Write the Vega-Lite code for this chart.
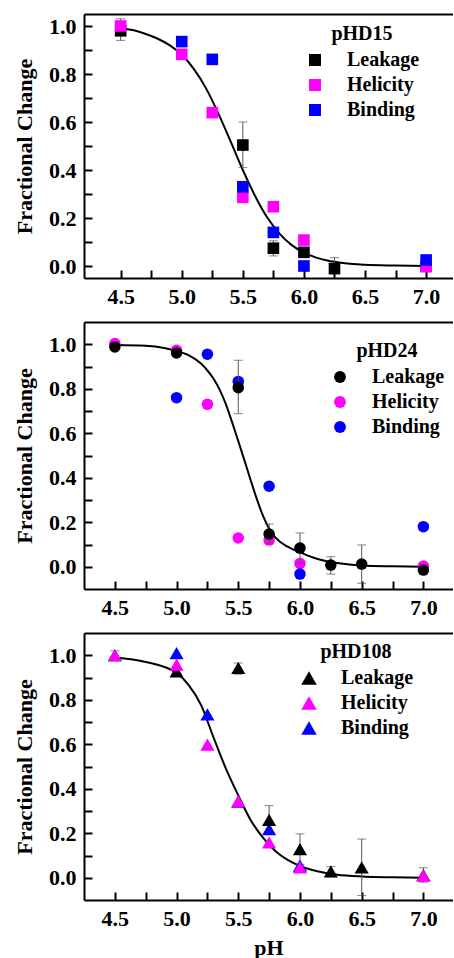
{
  "$schema": "https://vega.github.io/schema/vega-lite/v6.json",
  "padding": {"left": 13, "top": 14, "right": 0, "bottom": 0},
  "spacing": 15,
  "config": {
    "font": "Liberation Serif",
    "view": {"stroke": null},
    "axis": {"labelFont": "Liberation Serif", "labelFontSize": 22, "labelFontWeight": "bold", "labelColor": "#000", "titleFont": "Liberation Serif", "titleFontSize": 22, "titleFontWeight": "bold", "titleColor": "#000", "domainColor": "#000", "domainWidth": 2, "tickColor": "#000", "tickWidth": 2, "tickSize": -8, "labelPadding": 16, "grid": false, "labelOverlap": false, "labelFlush": false, "labelBound": false},
    "legend": {"orient": "none", "padding": 0, "titleFont": "Liberation Serif", "titleFontSize": 20, "titleFontWeight": "bold", "titleColor": "#000", "titleAnchor": "middle", "titlePadding": 6, "labelFont": "Liberation Serif", "labelFontSize": 20, "labelFontWeight": "bold", "labelColor": "#000", "labelOffset": 22, "rowPadding": 5, "symbolStrokeWidth": 0}
  },
  "datasets": {
    "c15": [
      {"pH": 4.5, "fit": 0.99}, {"pH": 4.6, "fit": 0.983}, {"pH": 4.7, "fit": 0.968}, {"pH": 4.8, "fit": 0.948}, {"pH": 4.9, "fit": 0.92},
      {"pH": 5.0, "fit": 0.88}, {"pH": 5.1, "fit": 0.82}, {"pH": 5.2, "fit": 0.739}, {"pH": 5.3, "fit": 0.635}, {"pH": 5.4, "fit": 0.519},
      {"pH": 5.5, "fit": 0.4}, {"pH": 5.6, "fit": 0.292}, {"pH": 5.7, "fit": 0.202}, {"pH": 5.8, "fit": 0.135}, {"pH": 5.9, "fit": 0.087},
      {"pH": 6.0, "fit": 0.056}, {"pH": 6.1, "fit": 0.035}, {"pH": 6.2, "fit": 0.022}, {"pH": 6.3, "fit": 0.014}, {"pH": 6.4, "fit": 0.008},
      {"pH": 6.5, "fit": 0.005}, {"pH": 6.75, "fit": 0.002}, {"pH": 7.0, "fit": 0.0}
    ],
    "c24": [
      {"pH": 4.5, "fit": 0.997}, {"pH": 4.75, "fit": 0.993}, {"pH": 4.9, "fit": 0.983}, {"pH": 5.0, "fit": 0.97}, {"pH": 5.1, "fit": 0.95},
      {"pH": 5.2, "fit": 0.912}, {"pH": 5.25, "fit": 0.882}, {"pH": 5.3, "fit": 0.845}, {"pH": 5.35, "fit": 0.795}, {"pH": 5.4, "fit": 0.73},
      {"pH": 5.45, "fit": 0.65}, {"pH": 5.5, "fit": 0.565}, {"pH": 5.55, "fit": 0.478}, {"pH": 5.6, "fit": 0.39}, {"pH": 5.65, "fit": 0.305},
      {"pH": 5.7, "fit": 0.23}, {"pH": 5.75, "fit": 0.172}, {"pH": 5.8, "fit": 0.132}, {"pH": 5.9, "fit": 0.09}, {"pH": 6.0, "fit": 0.065},
      {"pH": 6.1, "fit": 0.043}, {"pH": 6.2, "fit": 0.027}, {"pH": 6.3, "fit": 0.017}, {"pH": 6.4, "fit": 0.01}, {"pH": 6.5, "fit": 0.006},
      {"pH": 6.75, "fit": 0.002}, {"pH": 7.0, "fit": 0.0}
    ],
    "c108": [
      {"pH": 4.5, "fit": 0.99}, {"pH": 4.75, "fit": 0.97}, {"pH": 5.0, "fit": 0.92}, {"pH": 5.1, "fit": 0.865}, {"pH": 5.2, "fit": 0.775},
      {"pH": 5.3, "fit": 0.63}, {"pH": 5.4, "fit": 0.49}, {"pH": 5.5, "fit": 0.37}, {"pH": 5.6, "fit": 0.26}, {"pH": 5.7, "fit": 0.18},
      {"pH": 5.8, "fit": 0.12}, {"pH": 5.9, "fit": 0.08}, {"pH": 6.0, "fit": 0.053}, {"pH": 6.1, "fit": 0.035}, {"pH": 6.2, "fit": 0.022},
      {"pH": 6.3, "fit": 0.014}, {"pH": 6.5, "fit": 0.006}, {"pH": 6.75, "fit": 0.002}, {"pH": 7.0, "fit": 0.0}
    ],
    "p15": [
      {"pH": 4.5, "value": 0.98, "series": "Leakage", "lo": 0.94, "hi": 1.03},
      {"pH": 5.5, "value": 0.504, "series": "Leakage", "lo": 0.41, "hi": 0.6},
      {"pH": 5.75, "value": 0.074, "series": "Leakage", "lo": 0.042, "hi": 0.105},
      {"pH": 6.0, "value": 0.057, "series": "Leakage", "lo": 0.04, "hi": 0.075},
      {"pH": 6.25, "value": -0.011, "series": "Leakage", "lo": -0.03, "hi": 0.035},
      {"pH": 7.0, "value": 0.0, "series": "Leakage", "lo": -0.01, "hi": 0.01},
      {"pH": 4.5, "value": 1.0, "series": "Helicity"},
      {"pH": 5.0, "value": 0.882, "series": "Helicity"},
      {"pH": 5.25, "value": 0.639, "series": "Helicity"},
      {"pH": 5.5, "value": 0.286, "series": "Helicity"},
      {"pH": 5.75, "value": 0.247, "series": "Helicity"},
      {"pH": 6.0, "value": 0.108, "series": "Helicity"},
      {"pH": 7.0, "value": -0.003, "series": "Helicity"},
      {"pH": 5.0, "value": 0.935, "series": "Binding"},
      {"pH": 5.25, "value": 0.861, "series": "Binding"},
      {"pH": 5.5, "value": 0.33, "series": "Binding"},
      {"pH": 5.75, "value": 0.14, "series": "Binding"},
      {"pH": 6.0, "value": 0.0, "series": "Binding"},
      {"pH": 7.0, "value": 0.025, "series": "Binding"}
    ],
    "p24": [
      {"pH": 4.5, "value": 1.003, "series": "Helicity"},
      {"pH": 5.0, "value": 0.973, "series": "Helicity"},
      {"pH": 5.25, "value": 0.73, "series": "Helicity"},
      {"pH": 5.5, "value": 0.129, "series": "Helicity"},
      {"pH": 5.75, "value": 0.12, "series": "Helicity"},
      {"pH": 6.0, "value": 0.015, "series": "Helicity"},
      {"pH": 7.0, "value": 0.003, "series": "Helicity"},
      {"pH": 5.0, "value": 0.76, "series": "Binding"},
      {"pH": 5.25, "value": 0.955, "series": "Binding"},
      {"pH": 5.5, "value": 0.833, "series": "Binding"},
      {"pH": 5.75, "value": 0.362, "series": "Binding"},
      {"pH": 6.0, "value": -0.033, "series": "Binding"},
      {"pH": 7.0, "value": 0.18, "series": "Binding"},
      {"pH": 4.5, "value": 0.988, "series": "Leakage"},
      {"pH": 5.0, "value": 0.961, "series": "Leakage"},
      {"pH": 5.5, "value": 0.805, "series": "Leakage", "lo": 0.688, "hi": 0.928},
      {"pH": 5.75, "value": 0.147, "series": "Leakage", "lo": 0.105, "hi": 0.192},
      {"pH": 6.0, "value": 0.084, "series": "Leakage", "lo": 0.017, "hi": 0.152},
      {"pH": 6.25, "value": 0.0075, "series": "Leakage", "lo": -0.033, "hi": 0.045},
      {"pH": 6.5, "value": 0.012, "series": "Leakage", "lo": -0.074, "hi": 0.098},
      {"pH": 7.0, "value": -0.015, "series": "Leakage", "lo": -0.03, "hi": 0.0}
    ],
    "p108": [
      {"pH": 5.0, "value": 1.01, "series": "Binding"},
      {"pH": 5.25, "value": 0.734, "series": "Binding"},
      {"pH": 5.5, "value": 0.342, "series": "Binding"},
      {"pH": 5.75, "value": 0.219, "series": "Binding"},
      {"pH": 6.0, "value": 0.054, "series": "Binding"},
      {"pH": 4.5, "value": 1.0, "series": "Leakage", "lo": 0.975, "hi": 1.02},
      {"pH": 5.0, "value": 0.928, "series": "Leakage", "lo": 0.91, "hi": 0.945},
      {"pH": 5.5, "value": 0.943, "series": "Leakage", "lo": 0.915, "hi": 0.965},
      {"pH": 5.75, "value": 0.26, "series": "Leakage", "lo": 0.195, "hi": 0.324},
      {"pH": 6.0, "value": 0.129, "series": "Leakage", "lo": 0.06, "hi": 0.197},
      {"pH": 6.25, "value": 0.029, "series": "Leakage", "lo": 0.005, "hi": 0.05},
      {"pH": 6.5, "value": 0.047, "series": "Leakage", "lo": -0.08, "hi": 0.174},
      {"pH": 7.0, "value": 0.012, "series": "Leakage", "lo": -0.02, "hi": 0.045},
      {"pH": 4.5, "value": 1.0, "series": "Helicity"},
      {"pH": 5.0, "value": 0.958, "series": "Helicity"},
      {"pH": 5.25, "value": 0.598, "series": "Helicity"},
      {"pH": 5.5, "value": 0.344, "series": "Helicity"},
      {"pH": 5.75, "value": 0.159, "series": "Helicity"},
      {"pH": 6.0, "value": 0.047, "series": "Helicity"},
      {"pH": 7.0, "value": 0.009, "series": "Helicity"}
    ]
  },
  "resolve": {"scale": {"x": "independent", "y": "independent", "color": "independent"}, "legend": {"color": "independent"}},
  "vconcat": [
    {
      "width": 369, "height": 264,
      "resolve": {"axis": {"x": "independent", "y": "independent"}},
      "layer": [
        {
          "data": {"name": "c15"},
          "mark": {"type": "line", "color": "#000", "strokeWidth": 2, "interpolate": "monotone"},
          "encoding": {
            "x": {"field": "pH", "type": "quantitative", "scale": {"domain": [4.2, 7.22], "nice": false, "zero": false},
              "axis": {"orient": "bottom", "title": null, "values": [4.5, 4.75, 5, 5.25, 5.5, 5.75, 6, 6.25, 6.5, 6.75, 7], "labelExpr": "(datum.value*2)%1==0 ? format(datum.value,'.1f') : ''", "encoding": {"ticks": {"update": {"y2": {"signal": "(datum.value*2)%1==0 ? -8 : -5"}}}}}},
            "y": {"field": "fit", "type": "quantitative", "scale": {"domain": [-0.05, 1.05], "nice": false, "zero": false},
              "axis": {"orient": "left", "title": "Fractional Change", "titlePadding": 12, "values": [0, 0.1, 0.2, 0.3, 0.4, 0.5, 0.6, 0.7, 0.8, 0.9, 1.0], "labelExpr": "round(datum.value*10)%2==0 ? format(datum.value,'.1f') : ''", "encoding": {"ticks": {"update": {"x2": {"signal": "round(datum.value*10)%2==0 ? 8 : 5"}}}}}}
          }
        },
        {
          "data": {"name": "p15"},
          "transform": [{"filter": "isValid(datum.lo)"}],
          "mark": {"type": "errorbar", "ticks": {"size": 9, "thickness": 1, "color": "#555"}, "rule": {"color": "#555", "strokeWidth": 1}},
          "encoding": {
            "x": {"field": "pH", "type": "quantitative", "axis": null},
            "y": {"field": "lo", "type": "quantitative", "axis": null},
            "y2": {"field": "hi"}
          }
        },
        {
          "data": {"name": "p15"},
          "mark": {"type": "point", "shape": "square", "filled": true, "size": 135, "opacity": 1},
          "encoding": {
            "x": {"field": "pH", "type": "quantitative", "scale": {"domain": [4.2, 7.22], "nice": false, "zero": false}, "axis": {"orient": "top", "labels": false, "ticks": false, "domain": true, "title": null}},
            "y": {"field": "value", "type": "quantitative", "axis": null},
            "color": {"field": "series", "type": "nominal", "scale": {"domain": ["Leakage", "Helicity", "Binding"], "range": ["#000000", "#ff00ff", "#0000ff"]},
              "legend": {"title": "pHD15", "legendX": 221, "legendY": 10, "symbolType": "square", "symbolSize": 144}}
          }
        }
      ]
    },
    {
      "width": 369, "height": 267,
      "resolve": {"axis": {"x": "independent", "y": "independent"}},
      "layer": [
        {
          "data": {"name": "c24"},
          "mark": {"type": "line", "color": "#000", "strokeWidth": 2, "interpolate": "monotone"},
          "encoding": {
            "x": {"field": "pH", "type": "quantitative", "scale": {"domain": [4.25, 7.24], "nice": false, "zero": false},
              "axis": {"orient": "bottom", "title": null, "values": [4.5, 4.75, 5, 5.25, 5.5, 5.75, 6, 6.25, 6.5, 6.75, 7], "labelExpr": "(datum.value*2)%1==0 ? format(datum.value,'.1f') : ''", "encoding": {"ticks": {"update": {"y2": {"signal": "(datum.value*2)%1==0 ? -8 : -5"}}}}}},
            "y": {"field": "fit", "type": "quantitative", "scale": {"domain": [-0.1, 1.1], "nice": false, "zero": false},
              "axis": {"orient": "left", "title": "Fractional Change", "titlePadding": 12, "values": [0, 0.1, 0.2, 0.3, 0.4, 0.5, 0.6, 0.7, 0.8, 0.9, 1.0], "labelExpr": "round(datum.value*10)%2==0 ? format(datum.value,'.1f') : ''", "encoding": {"ticks": {"update": {"x2": {"signal": "round(datum.value*10)%2==0 ? 8 : 5"}}}}}}
          }
        },
        {
          "data": {"name": "p24"},
          "transform": [{"filter": "datum.series != 'Leakage'"}],
          "mark": {"type": "point", "shape": "circle", "filled": true, "size": 133, "opacity": 1},
          "encoding": {
            "x": {"field": "pH", "type": "quantitative", "axis": null},
            "y": {"field": "value", "type": "quantitative", "axis": null},
            "color": {"field": "series", "type": "nominal", "scale": {"domain": ["Leakage", "Helicity", "Binding"], "range": ["#000000", "#ff00ff", "#0000ff"]},
              "legend": {"title": "pHD24", "legendX": 246, "legendY": 19, "symbolType": "circle", "symbolSize": 140}}
          }
        },
        {
          "data": {"name": "p24"},
          "transform": [{"filter": "isValid(datum.lo)"}],
          "mark": {"type": "errorbar", "ticks": {"size": 9, "thickness": 1, "color": "#555"}, "rule": {"color": "#555", "strokeWidth": 1}},
          "encoding": {
            "x": {"field": "pH", "type": "quantitative", "axis": null},
            "y": {"field": "lo", "type": "quantitative", "axis": null},
            "y2": {"field": "hi"}
          }
        },
        {
          "data": {"name": "p24"},
          "transform": [{"filter": "datum.series == 'Leakage'"}],
          "mark": {"type": "point", "shape": "circle", "filled": true, "size": 133, "opacity": 1},
          "encoding": {
            "x": {"field": "pH", "type": "quantitative", "scale": {"domain": [4.25, 7.24], "nice": false, "zero": false}, "axis": {"orient": "top", "labels": false, "ticks": false, "domain": true, "title": null}},
            "y": {"field": "value", "type": "quantitative", "axis": null},
            "color": {"field": "series", "type": "nominal", "scale": {"domain": ["Leakage", "Helicity", "Binding"], "range": ["#000000", "#ff00ff", "#0000ff"]},
              "legend": {"title": "pHD24", "legendX": 246, "legendY": 19, "symbolType": "circle", "symbolSize": 140}}
          }
        }
      ]
    },
    {
      "width": 369, "height": 267,
      "resolve": {"axis": {"x": "independent", "y": "independent"}},
      "layer": [
        {
          "data": {"name": "c108"},
          "mark": {"type": "line", "color": "#000", "strokeWidth": 2, "interpolate": "monotone"},
          "encoding": {
            "x": {"field": "pH", "type": "quantitative", "scale": {"domain": [4.25, 7.24], "nice": false, "zero": false},
              "axis": {"orient": "bottom", "title": "pH", "titlePadding": 8, "values": [4.5, 4.75, 5, 5.25, 5.5, 5.75, 6, 6.25, 6.5, 6.75, 7], "labelExpr": "(datum.value*2)%1==0 ? format(datum.value,'.1f') : ''", "encoding": {"ticks": {"update": {"y2": {"signal": "(datum.value*2)%1==0 ? -8 : -5"}}}}}},
            "y": {"field": "fit", "type": "quantitative", "scale": {"domain": [-0.1, 1.1], "nice": false, "zero": false},
              "axis": {"orient": "left", "title": "Fractional Change", "titlePadding": 12, "values": [0, 0.1, 0.2, 0.3, 0.4, 0.5, 0.6, 0.7, 0.8, 0.9, 1.0], "labelExpr": "round(datum.value*10)%2==0 ? format(datum.value,'.1f') : ''", "encoding": {"ticks": {"update": {"x2": {"signal": "round(datum.value*10)%2==0 ? 8 : 5"}}}}}}
          }
        },
        {
          "data": {"name": "p108"},
          "transform": [{"filter": "isValid(datum.lo)"}],
          "mark": {"type": "errorbar", "ticks": {"size": 9, "thickness": 1, "color": "#555"}, "rule": {"color": "#555", "strokeWidth": 1}},
          "encoding": {
            "x": {"field": "pH", "type": "quantitative", "axis": null},
            "y": {"field": "lo", "type": "quantitative", "axis": null},
            "y2": {"field": "hi"}
          }
        },
        {
          "data": {"name": "p108"},
          "mark": {"type": "point", "shape": "triangle-up", "filled": true, "size": 200, "opacity": 1},
          "encoding": {
            "x": {"field": "pH", "type": "quantitative", "scale": {"domain": [4.25, 7.24], "nice": false, "zero": false}, "axis": {"orient": "top", "labels": false, "ticks": false, "domain": true, "title": null}},
            "y": {"field": "value", "type": "quantitative", "axis": null},
            "color": {"field": "series", "type": "nominal", "scale": {"domain": ["Leakage", "Helicity", "Binding"], "range": ["#000000", "#ff00ff", "#0000ff"]},
              "legend": {"title": "pHD108", "legendX": 215, "legendY": 9, "symbolType": "triangle-up", "symbolSize": 240}}
          }
        }
      ]
    }
  ]
}
